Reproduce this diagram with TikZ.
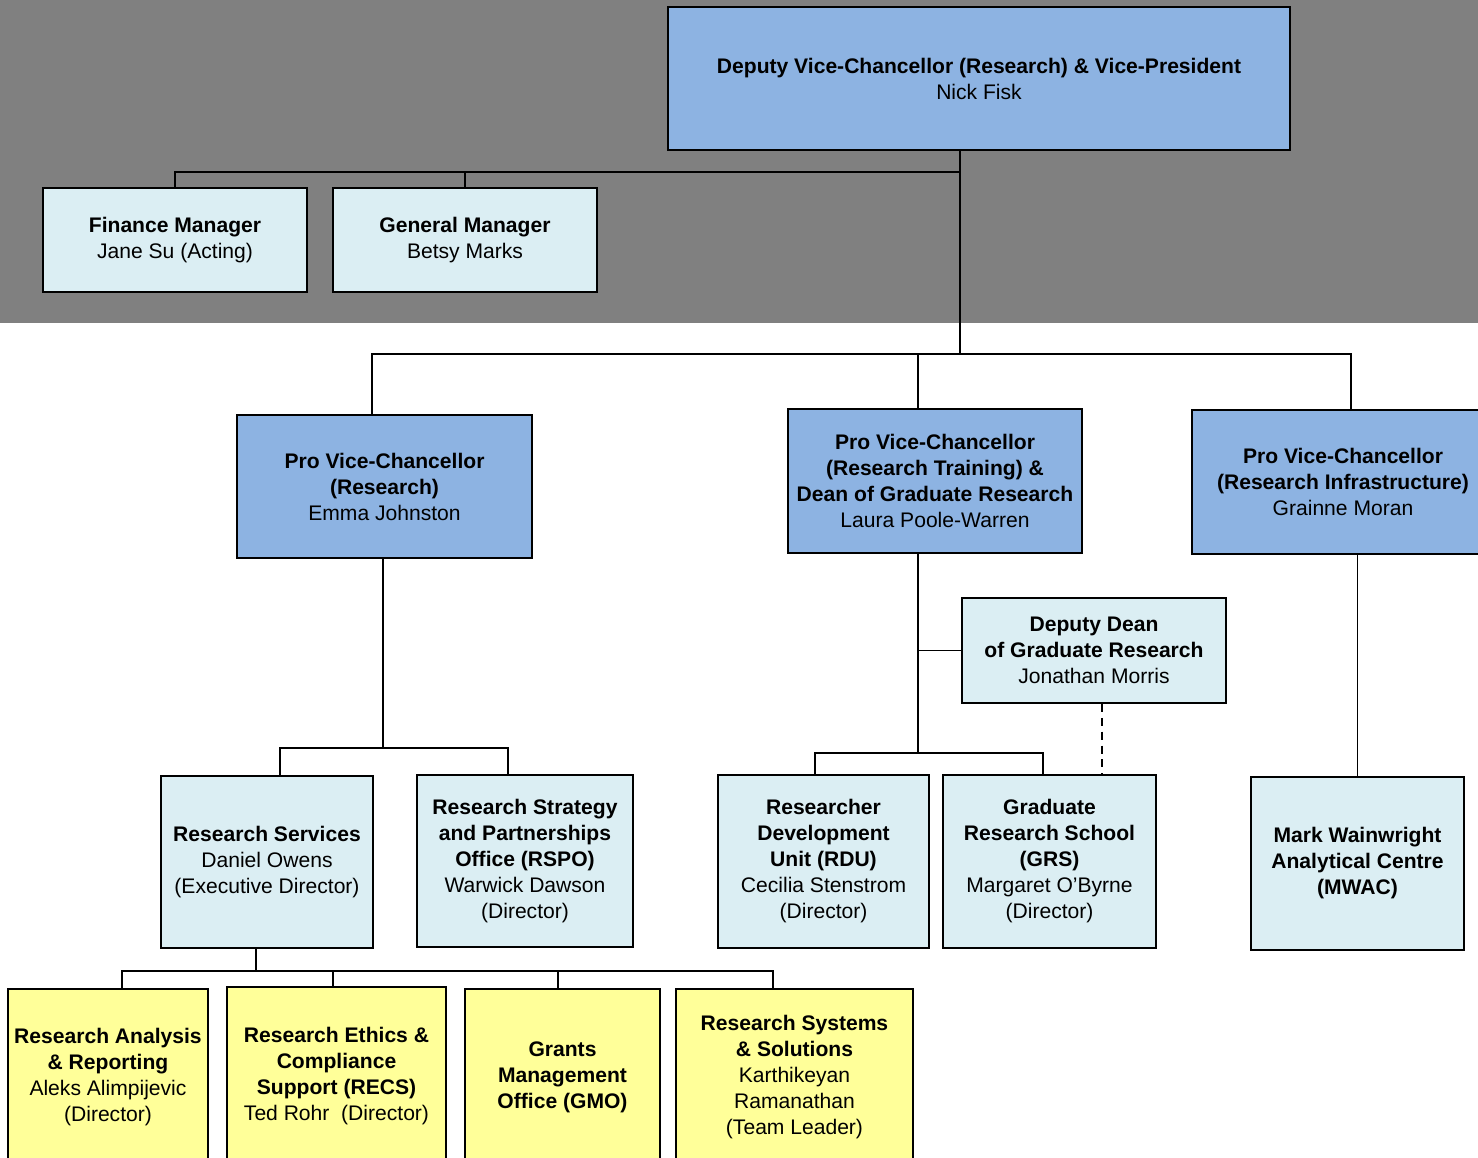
\documentclass[tikz,border=0pt]{standalone}
\usepackage{fontspec}
\setmainfont{Liberation Sans}
\definecolor{seniorblue}{HTML}{8DB3E2}
\definecolor{unitblue}{HTML}{DBEEF3}
\definecolor{teamyellow}{HTML}{FFFF99}
\definecolor{bandgray}{HTML}{808080}
\tikzset{
  orgbox/.style={draw=black, line width=1.1pt, inner sep=0pt, align=center,
    font=\fontsize{12}{14.8}\selectfont},
  boxsize/.style 2 args={minimum width=#1*0.02cm, minimum height=#2*0.02cm},
  seniorbox/.style={orgbox, fill=seniorblue},
  unitbox/.style={orgbox, fill=unitblue},
  teambox/.style={orgbox, fill=teamyellow},
  link/.style={line width=1pt}
}
\begin{document}
\begin{tikzpicture}[x=0.02cm, y=-0.02cm]
  \useasboundingbox (0, 0) rectangle (1478, 1158);
  \clip (0, 0) rectangle (1478, 1158);
  \fill[bandgray] (0, 0) rectangle (1478, 323);

  % executive level
  \node[seniorbox, boxsize={622}{143}] (dvc) at (979, 78.5)
    {\textbf{Deputy Vice-Chancellor (Research) \& Vice-President}\\Nick Fisk};
  \node[unitbox, boxsize={264}{104}] (finance) at (175, 240)
    {\textbf{Finance Manager}\\Jane Su (Acting)};
  \node[unitbox, boxsize={264}{104}] (general) at (465, 240)
    {\textbf{General Manager}\\Betsy Marks};

  % pro vice-chancellors
  \node[seniorbox, boxsize={295}{143}] (pvcr) at (384.5, 486.5)
    {\textbf{Pro Vice-Chancellor}\\\textbf{(Research)}\\Emma Johnston};
  \node[seniorbox, boxsize={294}{144}] (pvct) at (935, 481)
    {\textbf{Pro Vice-Chancellor}\\\textbf{(Research Training) \&}\\
     \textbf{Dean of Graduate Research}\\Laura Poole-Warren};
  \node[seniorbox, boxsize={302}{144}] (pvci) at (1343, 482)
    {\textbf{Pro Vice-Chancellor}\\\textbf{(Research Infrastructure)}\\Grainne Moran};
  \node[unitbox, boxsize={264}{105}] (ddean) at (1094, 650.5)
    {\textbf{Deputy Dean}\\\textbf{of Graduate Research}\\Jonathan Morris};

  % units
  \node[unitbox, boxsize={212}{172}] (rs) at (267, 862)
    {\textbf{Research Services}\\Daniel Owens\\(Executive Director)};
  \node[unitbox, boxsize={216}{172}] (rspo) at (525, 861)
    {\textbf{Research Strategy}\\\textbf{and Partnerships}\\\textbf{Office (RSPO)}\\
     Warwick Dawson\\(Director)};
  \node[unitbox, boxsize={211}{173}] (rdu) at (823.5, 861.5)
    {\textbf{Researcher}\\\textbf{Development}\\\textbf{Unit (RDU)}\\
     Cecilia Stenstrom\\(Director)};
  \node[unitbox, boxsize={213}{173}] (grs) at (1049.5, 861.5)
    {\textbf{Graduate}\\\textbf{Research School}\\\textbf{(GRS)}\\
     Margaret O'Byrne\\(Director)};
  \node[unitbox, boxsize={213}{173}] (mwac) at (1357.5, 863.5)
    {\textbf{Mark Wainwright}\\\textbf{Analytical Centre}\\\textbf{(MWAC)}};

  % teams under research services
  \node[teambox, boxsize={200}{176}] (ra) at (108, 1077)
    {\textbf{Research Analysis}\\\textbf{\& Reporting}\\Aleks Alimpijevic\\(Director)};
  \node[teambox, boxsize={219}{178}] (recs) at (336.5, 1076)
    {\textbf{Research Ethics \&}\\\textbf{Compliance}\\\textbf{Support (RECS)}\\
     Ted Rohr\ \ (Director)};
  \node[teambox, boxsize={195}{176}] (gmo) at (562.5, 1077)
    {\textbf{Grants}\\\textbf{Management}\\\textbf{Office (GMO)}};
  \node[teambox, boxsize={237}{176}] (rss) at (794.5, 1077)
    {\textbf{Research Systems}\\\textbf{\& Solutions}\\Karthikeyan\\Ramanathan\\(Team Leader)};

  % connectors
  \coordinate (topbar) at (960, 172);
  \coordinate (midbar) at (960, 354);
  \draw[link] (topbar |- dvc.south) -- (midbar);
  \draw[link] (finance.north) |- (topbar);
  \draw[link] (general.north) -- (general.north |- topbar);

  \coordinate (pvcrdrop) at (372, 354);
  \coordinate (pvctdrop) at (918, 354);
  \coordinate (pvcidrop) at (1351, 354);
  \draw[link] (pvcrdrop |- pvcr.north) -- (pvcrdrop) -- (pvcidrop) -- (pvcidrop |- pvci.north);
  \draw[link] (pvctdrop) -- (pvctdrop |- pvct.north);

  \coordinate (rsplit) at (383, 748);
  \coordinate (rsdrop) at (280, 748);
  \coordinate (rspodrop) at (508, 748);
  \draw[link] (rsplit |- pvcr.south) -- (rsplit);
  \draw[link] (rsdrop |- rs.north) -- (rsdrop) -- (rspodrop) -- (rspodrop |- rspo.north);

  \coordinate (tsplit) at (918, 753);
  \coordinate (rdudrop) at (815, 753);
  \coordinate (grsdrop) at (1043, 753);
  \draw[link] (tsplit |- pvct.south) -- (tsplit);
  \draw[link] (tsplit |- ddean.west) -- (ddean.west);
  \draw[link] (rdudrop |- rdu.north) -- (rdudrop) -- (grsdrop) -- (grsdrop |- grs.north);
  \coordinate (ddeanlink) at (1102, 740);
  \draw[link, dash pattern=on 4.5pt off 3.4pt] (ddeanlink |- ddean.south) -- (ddeanlink |- grs.north);

  \draw[link] (mwac.north |- pvci.south) -- (mwac.north);

  \coordinate (teamsplit) at (256, 971);
  \coordinate (radrop) at (122, 971);
  \coordinate (rssdrop) at (773, 971);
  \draw[link] (teamsplit |- rs.south) -- (teamsplit);
  \draw[link] (radrop |- ra.north) -- (radrop) -- (rssdrop) -- (rssdrop |- rss.north);
  \foreach \team/\xpos in {recs/333, gmo/558}
    \draw[link] (\xpos, 971) -- (\xpos, 971 |- \team.north);
\end{tikzpicture}
\end{document}
